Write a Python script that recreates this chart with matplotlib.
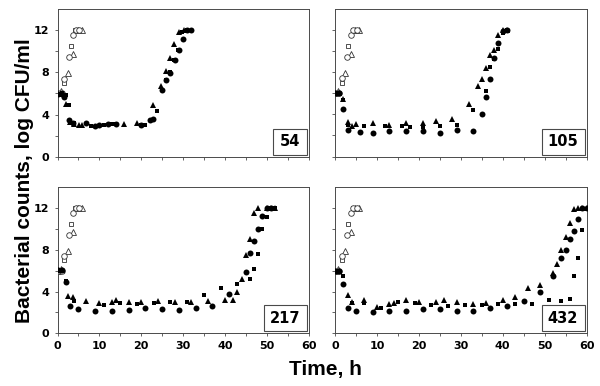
import matplotlib
matplotlib.use("Agg")
import matplotlib.pyplot as plt
from matplotlib.patches import Rectangle

# ---- control (drug-free) growth, open symbols, same in every panel ----
ctl_circ_t = [0, 1, 1.6, 2.8, 3.7, 4.4, 5.2]
ctl_circ_y = [6.0, 6.0, 7.4, 9.4, 11.5, 12.0, 12.0]
ctl_tri_t = [0, 0.8, 2.4, 3.7, 4.8, 5.8]
ctl_tri_y = [6.0, 6.2, 7.9, 9.7, 12.0, 12.0]
ctl_sq_t = [0, 1, 1.6, 3.2, 4.2, 5.0]
ctl_sq_y = [5.9, 6.0, 7.0, 10.5, 12.0, 12.0]

# ---- panel "54" ----
p54_circ_t = [0, 1, 1.6, 2.8, 3.6, 6.9, 9, 10, 12, 14, 20, 22, 22.8, 25, 26, 27, 28, 29, 30, 31, 32]
p54_circ_y = [5.9, 5.9, 5.7, 3.5, 3.2, 3.2, 2.9, 3.0, 3.1, 3.1, 3.0, 3.5, 3.6, 6.3, 7.3, 7.9, 9.1, 10.1, 11.1, 11.95, 12.0]
p54_tri_t = [0, 1, 2, 3, 4, 5.2, 5.8, 16, 18.9, 22.8, 24.8, 25.9, 26.8, 27.8, 29, 30.2]
p54_tri_y = [6.0, 5.9, 5.0, 3.3, 3.1, 3.0, 3.0, 3.1, 3.25, 4.9, 6.7, 8.1, 9.3, 10.7, 11.8, 12.0]
p54_sq_t = [0, 1, 2, 2.8, 4, 8, 9.1, 11, 13, 14, 19.9, 21, 23.7, 25, 26, 26.9, 27.8, 28.9, 29.8, 31]
p54_sq_y = [5.8, 6.0, 5.8, 4.9, 3.2, 2.9, 2.9, 3.0, 3.1, 3.1, 3.0, 3.0, 4.3, 6.3, 7.3, 8.0, 9.1, 10.1, 11.8, 12.0]

# ---- panel "105" ----
p105_circ_t = [0, 1, 2, 3, 6, 9, 13, 17, 21, 25, 29, 33, 35, 36, 37, 38, 39, 40, 41]
p105_circ_y = [6.0, 6.0, 4.5, 2.5, 2.3, 2.2, 2.45, 2.45, 2.4, 2.2, 2.5, 2.45, 4.0, 5.65, 7.3, 9.3, 10.75, 11.9, 12.0]
p105_tri_t = [0, 1, 2, 3, 4, 5, 9, 13, 17, 21, 24, 28, 32, 34, 35, 36, 37, 38, 39, 40, 41]
p105_tri_y = [6.0, 6.0, 5.4, 3.3, 2.9, 3.1, 3.2, 3.0, 3.2, 3.2, 3.4, 3.55, 5.0, 6.7, 7.3, 8.4, 9.6, 10.1, 11.5, 12.0, 12.0]
p105_sq_t = [0, 1, 2, 3, 7, 12, 16, 18, 21, 25, 29, 33, 36, 37, 38, 39, 40, 41]
p105_sq_y = [6.0, 6.0, 5.3, 3.0, 2.9, 2.9, 2.9, 2.8, 2.8, 2.9, 3.0, 4.4, 6.2, 8.5, 9.2, 10.2, 11.7, 12.0]

# ---- panel "217" ----
p217_circ_t = [0, 1, 2, 3, 5, 9, 13, 17, 21, 25, 29, 33, 37, 41, 45, 46, 47, 48, 49, 50, 51]
p217_circ_y = [6.05, 6.05, 4.9, 2.6, 2.3, 2.1, 2.1, 2.2, 2.4, 2.3, 2.2, 2.4, 2.6, 3.75, 5.9, 7.65, 8.8, 9.95, 11.2, 12.0, 12.0]
p217_tri_t = [0, 1, 2.6, 3.8, 6.8, 10, 13, 14, 17, 20, 24, 28, 32, 36, 40, 42, 43, 44, 45, 46, 47, 48, 50, 51, 52]
p217_tri_y = [6.05, 6.05, 3.55, 3.5, 3.1, 2.9, 2.95, 3.2, 2.95, 3.0, 3.1, 2.95, 3.0, 3.1, 3.2, 3.2, 4.0, 5.15, 7.5, 9.0, 11.5, 12.0, 12.0, 12.0, 12.0]
p217_sq_t = [0, 1, 2, 4, 11, 15, 19, 23, 27, 31, 35, 39, 43, 46, 47, 48, 49, 50, 51, 52]
p217_sq_y = [6.0, 6.0, 5.0, 3.1, 2.7, 2.9, 2.85, 2.9, 3.0, 2.95, 3.65, 4.3, 4.7, 5.15, 6.2, 7.55, 9.95, 11.1, 12.0, 12.0]

# ---- panel "432" ----
p432_circ_t = [0, 1, 2, 3, 5, 9, 13, 17, 21, 25, 29, 33, 37, 41, 45, 49, 52, 54, 55, 56, 57, 58, 59, 60]
p432_circ_y = [6.0, 6.0, 4.7, 2.45, 2.1, 2.0, 2.1, 2.1, 2.35, 2.3, 2.15, 2.15, 2.45, 2.6, 3.1, 4.0, 5.5, 7.2, 8.0, 9.0, 9.8, 10.9, 12.0, 12.0]
p432_tri_t = [0, 1, 3, 4, 7, 10, 13, 14, 17, 20, 24, 26, 29, 33, 36, 40, 43, 46, 49, 52, 53, 54, 55, 56, 57, 58, 59, 60]
p432_tri_y = [6.0, 6.0, 3.7, 2.95, 3.15, 2.5, 2.85, 2.9, 3.2, 3.0, 3.0, 3.15, 2.95, 2.85, 2.9, 3.15, 3.5, 4.35, 4.65, 5.75, 6.6, 7.95, 9.2, 10.6, 11.85, 12.0, 12.0, 12.0]
p432_sq_t = [0, 1, 2, 4, 7, 11, 15, 19, 23, 27, 31, 35, 39, 43, 47, 51, 54, 56, 57, 58, 59]
p432_sq_y = [6.0, 6.0, 5.5, 2.9, 2.9, 2.45, 3.0, 2.9, 2.7, 2.6, 2.7, 2.7, 2.8, 2.8, 2.85, 3.2, 3.05, 3.3, 5.5, 7.2, 9.85]

panel_labels = ["54", "105", "217", "432"]
x_ticks = [0, 10, 20, 30, 40, 50, 60]
y_ticks = [0, 4, 8, 12]
xlabel = "Time, h"
ylabel = "Bacterial counts, log CFU/ml"

W, H = 600, 386
fig = plt.figure(figsize=(6.0, 3.86), dpi=100)

def frac(x0, y_top, x1, y_bot):
    return [x0 / W, 1 - y_bot / H, (x1 - x0) / W, (y_bot - y_top) / H]

axes_rects = [frac(57.5, 8.5, 308.5, 157), frac(335, 8.5, 586.5, 156.5),
              frac(57.5, 187, 308.5, 333.3), frac(335, 187, 586.5, 333.3)]

panel_data = [
    (p54_circ_t, p54_circ_y, p54_tri_t, p54_tri_y, p54_sq_t, p54_sq_y),
    (p105_circ_t, p105_circ_y, p105_tri_t, p105_tri_y, p105_sq_t, p105_sq_y),
    (p217_circ_t, p217_circ_y, p217_tri_t, p217_tri_y, p217_sq_t, p217_sq_y),
    (p432_circ_t, p432_circ_y, p432_tri_t, p432_tri_y, p432_sq_t, p432_sq_y),
]

spine_col = "#4a4a4a"
tick_font = dict(family="DejaVu Sans", weight="bold", size=8)

for i, rect in enumerate(axes_rects):
    ax = fig.add_axes(rect)
    ct, cy, tt, ty, st, sy = panel_data[i]
    # controls (open symbols)
    ax.plot(ctl_tri_t, ctl_tri_y, ls="none", marker="^", ms=4.0, mfc="white", mec="#333333", mew=0.6, zorder=3)
    ax.plot(ctl_sq_t, ctl_sq_y, ls="none", marker="s", ms=2.7, mfc="white", mec="#333333", mew=0.6, zorder=3)
    ax.plot(ctl_circ_t, ctl_circ_y, ls="none", marker="o", ms=4.0, mfc="white", mec="#333333", mew=0.6, zorder=3)
    # drug-exposed (filled symbols)
    ax.plot(tt, ty, ls="none", marker="^", ms=4.3, color="black", mew=0, zorder=4)
    ax.plot(st, sy, ls="none", marker="s", ms=2.8, color="black", mew=0, zorder=4)
    ax.plot(ct, cy, ls="none", marker="o", ms=4.3, color="black", mew=0, zorder=4)

    ax.set_xlim(0, 60)
    ax.set_ylim(0, 14)
    ax.set_xticks(x_ticks)
    ax.set_xticks(range(0, 61, 5), minor=True)
    ax.set_yticks(y_ticks)
    ax.set_yticks([2, 6, 10], minor=True)
    ax.tick_params(which="both", direction="out", length=2.2, width=0.6, color=spine_col, pad=3.5)
    for sp in ax.spines.values():
        sp.set_color(spine_col)
        sp.set_linewidth(0.7)
    if i < 2:
        ax.set_xticklabels([])
    else:
        ax.set_xticklabels([str(v) for v in x_ticks], fontdict=tick_font)
    if i % 2 == 1:
        ax.set_yticklabels([])
    else:
        ax.set_yticklabels([str(v) for v in y_ticks], fontdict=tick_font)

    # label box in the lower right corner
    lab = panel_labels[i]
    bw = (34 if len(lab) == 2 else 43) / (rect[2] * W)
    bh = 26 / (rect[3] * H)
    x0 = 1 - 2 / (rect[2] * W) - bw
    y0 = 2 / (rect[3] * H)
    ax.add_patch(Rectangle((x0, y0), bw, bh, transform=ax.transAxes, fill=True,
                           facecolor="white", edgecolor=spine_col, lw=0.8, zorder=6))
    ax.text(x0 + bw / 2, y0 + bh / 2, lab, transform=ax.transAxes, ha="center", va="center",
            family="DejaVu Sans", weight="bold", size=10.5, zorder=7)

fig.text(25 / W, 1 - 181 / H, ylabel, rotation=90, ha="center", va="center",
         family="Liberation Sans", weight="bold", size=15)
fig.text(325 / W, 1 - 369 / H, xlabel, ha="center", va="center",
         family="Liberation Sans", weight="bold", size=15)

fig.savefig("out.png", dpi=100)
